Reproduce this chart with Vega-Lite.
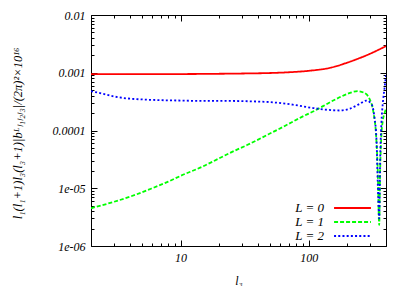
{
  "$schema": "https://vega.github.io/schema/vega-lite/v6.json",
  "width": 295,
  "height": 231,
  "autosize": {"type": "none"},
  "padding": {"left": 91, "top": 15, "right": 23, "bottom": 40},
  "background": "white",
  "datasets": {
    "curves": [
      {"l3": 2, "v": 0.00095, "L": "L = 0"},
      {"l3": 3, "v": 0.00095, "L": "L = 0"},
      {"l3": 5, "v": 0.00095, "L": "L = 0"},
      {"l3": 10, "v": 0.00095, "L": "L = 0"},
      {"l3": 20, "v": 0.00096, "L": "L = 0"},
      {"l3": 30, "v": 0.00097, "L": "L = 0"},
      {"l3": 50, "v": 0.00099, "L": "L = 0"},
      {"l3": 70, "v": 0.00102, "L": "L = 0"},
      {"l3": 100, "v": 0.00108, "L": "L = 0"},
      {"l3": 150, "v": 0.00123, "L": "L = 0"},
      {"l3": 200, "v": 0.0015, "L": "L = 0"},
      {"l3": 250, "v": 0.0018, "L": "L = 0"},
      {"l3": 300, "v": 0.00213, "L": "L = 0"},
      {"l3": 350, "v": 0.0025, "L": "L = 0"},
      {"l3": 400, "v": 0.0029, "L": "L = 0"},

      {"l3": 2, "v": 0.0000045, "L": "L = 1"},
      {"l3": 3, "v": 0.0000058, "L": "L = 1"},
      {"l3": 4, "v": 0.0000071, "L": "L = 1"},
      {"l3": 6, "v": 0.0000100, "L": "L = 1"},
      {"l3": 8, "v": 0.0000130, "L": "L = 1"},
      {"l3": 10, "v": 0.0000164, "L": "L = 1"},
      {"l3": 15, "v": 0.000024, "L": "L = 1"},
      {"l3": 20, "v": 0.000033, "L": "L = 1"},
      {"l3": 26, "v": 0.000044, "L": "L = 1"},
      {"l3": 33, "v": 0.000056, "L": "L = 1"},
      {"l3": 47, "v": 0.000083, "L": "L = 1"},
      {"l3": 65, "v": 0.00012, "L": "L = 1"},
      {"l3": 85, "v": 0.000165, "L": "L = 1"},
      {"l3": 111, "v": 0.00022, "L": "L = 1"},
      {"l3": 155, "v": 0.00033, "L": "L = 1"},
      {"l3": 200, "v": 0.00043, "L": "L = 1"},
      {"l3": 240, "v": 0.00048, "L": "L = 1"},
      {"l3": 270, "v": 0.00045, "L": "L = 1"},
      {"l3": 300, "v": 0.00034, "L": "L = 1"},
      {"l3": 320, "v": 0.0002, "L": "L = 1"},
      {"l3": 335, "v": 0.00008, "L": "L = 1"},
      {"l3": 345, "v": 0.00002, "L": "L = 1"},
      {"l3": 354, "v": 0.0000023, "L": "L = 1"},
      {"l3": 360, "v": 0.00002, "L": "L = 1"},
      {"l3": 368, "v": 0.00008, "L": "L = 1"},
      {"l3": 378, "v": 0.00015, "L": "L = 1"},
      {"l3": 390, "v": 0.0002, "L": "L = 1"},
      {"l3": 400, "v": 0.00024, "L": "L = 1"},

      {"l3": 2, "v": 0.00048, "L": "L = 2"},
      {"l3": 2.5, "v": 0.00043, "L": "L = 2"},
      {"l3": 3, "v": 0.00039, "L": "L = 2"},
      {"l3": 3.8, "v": 0.00036, "L": "L = 2"},
      {"l3": 5, "v": 0.000345, "L": "L = 2"},
      {"l3": 7, "v": 0.000335, "L": "L = 2"},
      {"l3": 10, "v": 0.00033, "L": "L = 2"},
      {"l3": 15, "v": 0.000325, "L": "L = 2"},
      {"l3": 23, "v": 0.000325, "L": "L = 2"},
      {"l3": 35, "v": 0.00032, "L": "L = 2"},
      {"l3": 50, "v": 0.00031, "L": "L = 2"},
      {"l3": 75, "v": 0.00028, "L": "L = 2"},
      {"l3": 108, "v": 0.000245, "L": "L = 2"},
      {"l3": 140, "v": 0.000228, "L": "L = 2"},
      {"l3": 175, "v": 0.000222, "L": "L = 2"},
      {"l3": 210, "v": 0.00024, "L": "L = 2"},
      {"l3": 250, "v": 0.00029, "L": "L = 2"},
      {"l3": 282, "v": 0.00033, "L": "L = 2"},
      {"l3": 310, "v": 0.00028, "L": "L = 2"},
      {"l3": 325, "v": 0.00017, "L": "L = 2"},
      {"l3": 337, "v": 0.00007, "L": "L = 2"},
      {"l3": 346, "v": 0.00001, "L": "L = 2"},
      {"l3": 354, "v": 0.000003, "L": "L = 2"},
      {"l3": 360, "v": 0.00003, "L": "L = 2"},
      {"l3": 368, "v": 0.00013, "L": "L = 2"},
      {"l3": 378, "v": 0.0003, "L": "L = 2"},
      {"l3": 390, "v": 0.00055, "L": "L = 2"},
      {"l3": 400, "v": 0.0009, "L": "L = 2"}
    ]
  },
  "data": {"name": "curves"},
  "layer": [
    {
      "mark": {"type": "line", "strokeWidth": 1.8, "interpolate": "monotone", "clip": true},
      "encoding": {
        "x": {
          "field": "l3", "type": "quantitative",
          "scale": {"type": "log", "domain": [2, 400], "nice": false},
          "axis": {
            "orient": "bottom", "values": [10, 100], "tickSize": -6, "labelPadding": 12,
            "title": "l₃", "titleX": 147.5, "titleY": 34, "titleBaseline": "middle", "titleAlign": "center",
            "labelExpr": "format(datum.value, 'd')"
          }
        },
        "y": {
          "field": "v", "type": "quantitative",
          "scale": {"type": "log", "domain": [0.000001, 0.01], "nice": false},
          "axis": {
            "orient": "left", "values": [0.000001, 0.00001, 0.0001, 0.001, 0.01], "tickSize": -6, "labelPadding": 12,
            "title": "l₁(l₁+1)l₃(l₃+1)|bᴸₗ₁ₗ₂ₗ₃|/(2π)²×10¹⁶",
            "titleX": -74, "titleY": 118, "titleAngle": 270, "titleBaseline": "middle", "titleAlign": "center",
            "titleFontSize": 12.5,
            "labelExpr": "datum.value < 0.000005 ? '1e-06' : (datum.value < 0.00005 ? '1e-05' : format(datum.value, '~g'))"
          }
        },
        "color": {
          "field": "L", "type": "nominal",
          "scale": {"domain": ["L = 0", "L = 1", "L = 2"], "range": ["#ff0000", "#00ff00", "#0000ff"]},
          "legend": {
            "title": null, "orient": "none", "legendX": 255, "legendY": 186.5,
            "symbolType": "M-4,0H4", "symbolSize": 85, "symbolStrokeWidth": 2,
            "labelAlign": "right", "labelOffset": -35, "labelFontSize": 13,
            "labelFont": "Liberation Serif", "labelFontStyle": "italic", "labelColor": "black",
            "rowPadding": 0, "padding": 0
          }
        },
        "strokeDash": {
          "field": "L", "type": "nominal",
          "scale": {"domain": ["L = 0", "L = 1", "L = 2"], "range": [[1, 0], [4, 2], [2, 2.2]]},
          "legend": {
            "title": null, "orient": "none", "legendX": 255, "legendY": 186.5,
            "symbolType": "M-4,0H4", "symbolSize": 85, "symbolStrokeWidth": 2,
            "labelAlign": "right", "labelOffset": -35, "labelFontSize": 13,
            "labelFont": "Liberation Serif", "labelFontStyle": "italic", "labelColor": "black",
            "rowPadding": 0, "padding": 0
          }
        }
      }
    },
    {
      "mark": {"type": "line", "opacity": 0},
      "encoding": {
        "x": {"field": "l3", "type": "quantitative", "scale": {"type": "log", "domain": [2, 400], "nice": false},
          "axis": {"orient": "bottom", "values": [2,3,4,5,6,7,8,9,20,30,40,50,60,70,80,90,200,300,400], "tickSize": -3, "labels": false, "title": null}},
        "y": {"field": "v", "type": "quantitative", "scale": {"type": "log", "domain": [0.000001, 0.01], "nice": false},
          "axis": {"orient": "left", "values": [0.000002,0.000003,0.000004,0.000005,0.000006,0.000007,0.000008,0.000009,0.00002,0.00003,0.00004,0.00005,0.00006,0.00007,0.00008,0.00009,0.0002,0.0003,0.0004,0.0005,0.0006,0.0007,0.0008,0.0009,0.002,0.003,0.004,0.005,0.006,0.007,0.008,0.009], "tickSize": -3, "labels": false, "title": null}},
        "detail": {"field": "L"}
      }
    },
    {
      "mark": {"type": "line", "opacity": 0},
      "encoding": {
        "x": {"field": "l3", "type": "quantitative", "scale": {"type": "log", "domain": [2, 400], "nice": false},
          "axis": {"orient": "top", "values": [10, 100], "tickSize": -6, "labels": false, "title": null}},
        "y": {"field": "v", "type": "quantitative", "scale": {"type": "log", "domain": [0.000001, 0.01], "nice": false},
          "axis": {"orient": "right", "values": [0.000001, 0.00001, 0.0001, 0.001, 0.01], "tickSize": -6, "labels": false, "title": null}},
        "detail": {"field": "L"}
      }
    },
    {
      "mark": {"type": "line", "opacity": 0},
      "encoding": {
        "x": {"field": "l3", "type": "quantitative", "scale": {"type": "log", "domain": [2, 400], "nice": false},
          "axis": {"orient": "top", "values": [2,3,4,5,6,7,8,9,20,30,40,50,60,70,80,90,200,300,400], "tickSize": -3, "labels": false, "title": null}},
        "y": {"field": "v", "type": "quantitative", "scale": {"type": "log", "domain": [0.000001, 0.01], "nice": false},
          "axis": {"orient": "right", "values": [0.000002,0.000003,0.000004,0.000005,0.000006,0.000007,0.000008,0.000009,0.00002,0.00003,0.00004,0.00005,0.00006,0.00007,0.00008,0.00009,0.0002,0.0003,0.0004,0.0005,0.0006,0.0007,0.0008,0.0009,0.002,0.003,0.004,0.005,0.006,0.007,0.008,0.009], "tickSize": -3, "labels": false, "title": null}},
        "detail": {"field": "L"}
      }
    }
  ],
  "resolve": {"axis": {"x": "independent", "y": "independent"}},
  "config": {
    "view": {"stroke": "black", "strokeWidth": 1},
    "axis": {
      "grid": false, "domain": false, "tickColor": "black", "tickWidth": 1,
      "labelFont": "Liberation Serif", "labelFontStyle": "italic", "labelFontSize": 12, "labelColor": "black",
      "titleFont": "Liberation Serif", "titleFontStyle": "italic", "titleFontWeight": "normal", "titleFontSize": 12, "titleColor": "black"
    }
  }
}
